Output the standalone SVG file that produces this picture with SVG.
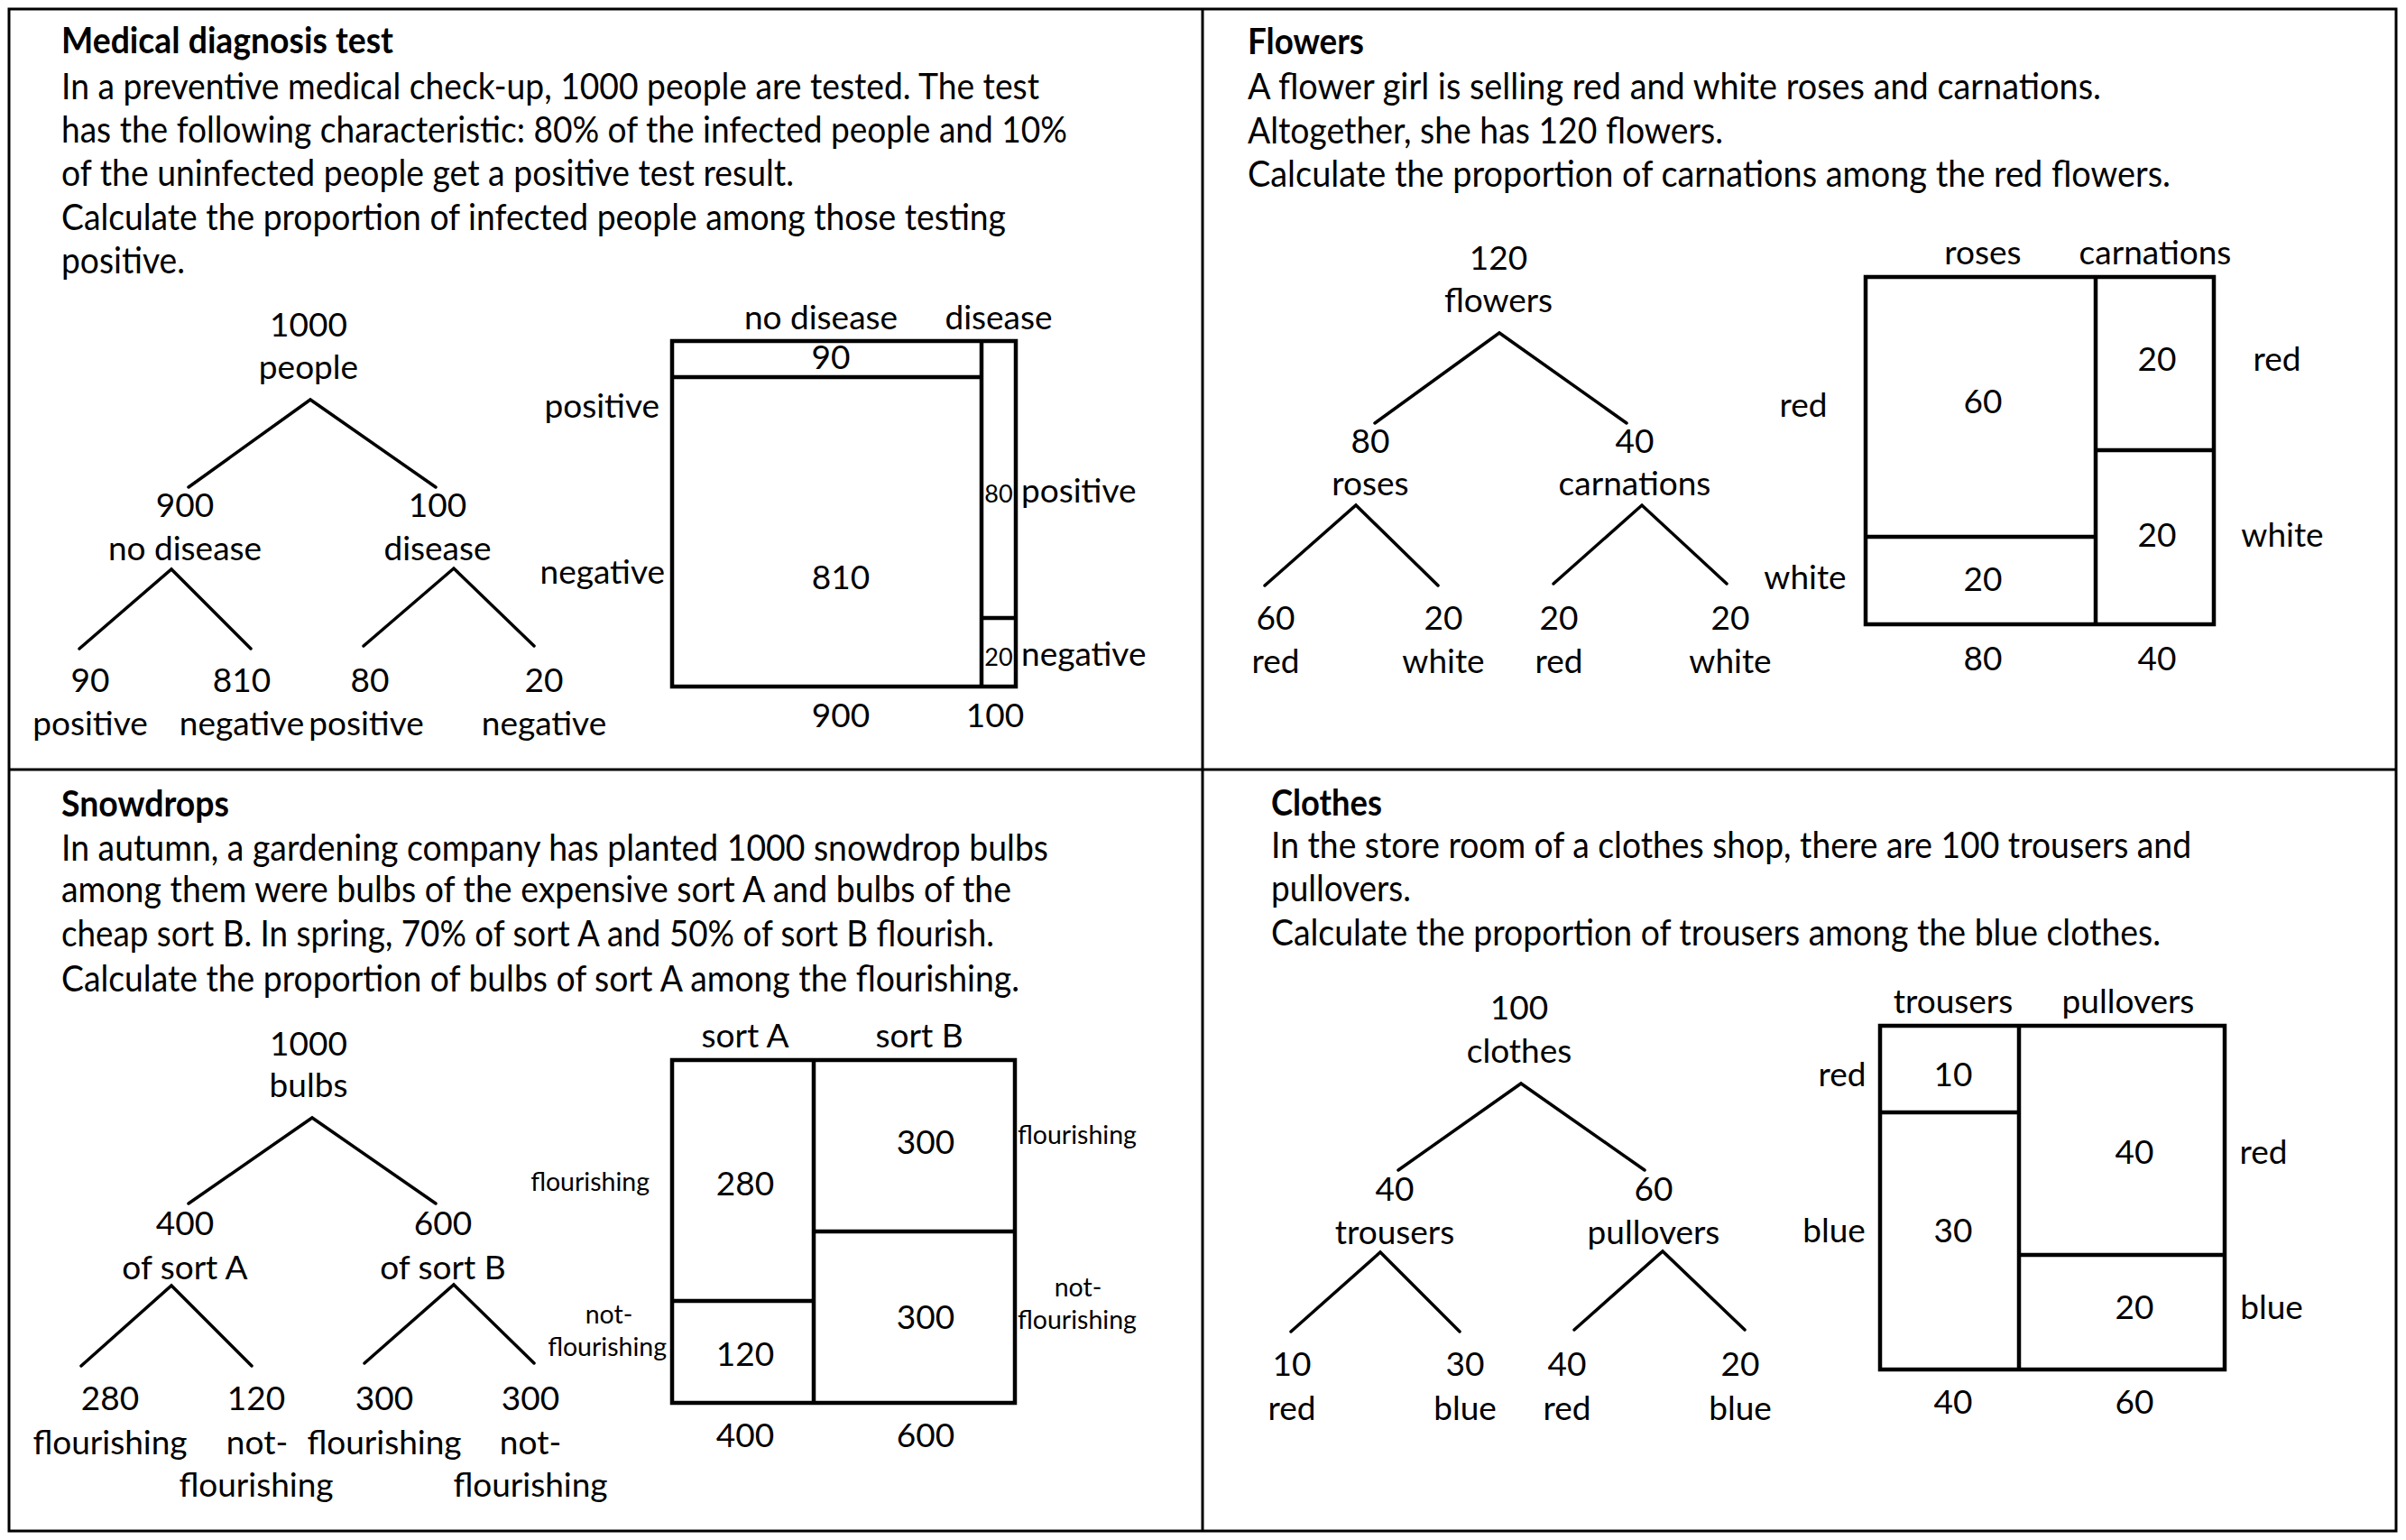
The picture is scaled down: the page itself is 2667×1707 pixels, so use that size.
<svg xmlns="http://www.w3.org/2000/svg" width="2667" height="1707" viewBox="0 0 2667 1707">
<style>
text{font-family:Lato,"Liberation Sans",Arial,sans-serif;font-size:37px;fill:#000}
.p{font-size:40px}
.b{font-weight:bold;font-size:40px}
.c{text-anchor:middle}
.e{text-anchor:end}
.s{font-size:28.5px}
.xs{font-size:27px}
.ln{stroke:#000;stroke-width:3.5;fill:none;stroke-linecap:round;stroke-linejoin:miter}
.bx{stroke:#000;stroke-width:4.5;fill:none}
.fr{stroke:#000;stroke-width:3;fill:none}
</style>
<rect width="2667" height="1707" fill="#fff"/>
<g id="frame">
<rect class="fr" x="10" y="10" width="2646" height="1687"/>
<line class="fr" x1="1333" y1="10" x2="1333" y2="1697"/>
<line class="fr" x1="10" y1="853" x2="2656" y2="853"/>
</g>
<g id="connectors">
<path class="ln" d="M209,540 L344,443 L483,540"/>
<path class="ln" d="M88,719 L190,631 L278,719"/>
<path class="ln" d="M403,716 L503,630 L592,716"/>
<path class="ln" d="M1524,469 L1662,369 L1803,469"/>
<path class="ln" d="M1402,649 L1503,560 L1594,649"/>
<path class="ln" d="M1722,647 L1820,560 L1914,647"/>
<path class="ln" d="M209,1334 L346,1239 L483,1334"/>
<path class="ln" d="M90,1514 L190,1425 L279,1514"/>
<path class="ln" d="M404,1511 L503,1424 L592,1511"/>
<path class="ln" d="M1550,1297 L1686,1201 L1823,1297"/>
<path class="ln" d="M1431,1476 L1530,1388 L1618,1476"/>
<path class="ln" d="M1745,1474 L1843,1387 L1934,1474"/>
</g>
<g id="panel-medical">
<text class="b" x="68" y="59" textLength="368" lengthAdjust="spacingAndGlyphs">Medical diagnosis test</text>
<text class="p" x="68" y="110" textLength="1084" lengthAdjust="spacingAndGlyphs">In a preventive medical check-up, 1000 people are tested. The test</text>
<text class="p" x="68" y="158" textLength="1115" lengthAdjust="spacingAndGlyphs">has the following characteristic: 80% of the infected people and 10%</text>
<text class="p" x="68" y="206" textLength="812" lengthAdjust="spacingAndGlyphs">of the uninfected people get a positive test result.</text>
<text class="p" x="68" y="255" textLength="1047" lengthAdjust="spacingAndGlyphs">Calculate the proportion of infected people among those testing</text>
<text class="p" x="68" y="303" textLength="137" lengthAdjust="spacingAndGlyphs">positive.</text>
<g id="tree-medical">
<text class="c" x="342" y="373">1000</text><text class="c" x="342" y="420">people</text>
<text class="c" x="205" y="573">900</text><text class="c" x="205" y="621">no disease</text>
<text class="c" x="485" y="573">100</text><text class="c" x="485" y="621">disease</text>
<text class="c" x="100" y="767">90</text><text class="c" x="100" y="815">positive</text>
<text class="c" x="268" y="767">810</text><text class="c" x="268" y="815">negative</text>
<text class="c" x="410" y="767">80</text><text class="c" x="406" y="815">positive</text>
<text class="c" x="603" y="767">20</text><text class="c" x="603" y="815">negative</text>
</g>
<g id="mosaic-medical">
<rect class="bx" x="745" y="378" width="381" height="383"/>
<line class="bx" x1="1088" y1="378" x2="1088" y2="761"/>
<line class="bx" x1="745" y1="418" x2="1088" y2="418"/>
<line class="bx" x1="1088" y1="685" x2="1126" y2="685"/>
<text class="c" x="910" y="365">no disease</text><text class="c" x="1107" y="365">disease</text>
<text class="c" x="921" y="409">90</text>
<text class="e" x="731" y="463">positive</text>
<text class="e" x="737" y="647">negative</text>
<text class="c" x="932" y="653">810</text>
<text class="xs c" x="1107" y="557">80</text><text x="1132" y="557">positive</text>
<text class="xs c" x="1107" y="738">20</text><text x="1132" y="738">negative</text>
<text class="c" x="932" y="806">900</text><text class="c" x="1103" y="806">100</text>
</g>
</g>
<g id="panel-flowers">
<text class="b" x="1383" y="60" textLength="129" lengthAdjust="spacingAndGlyphs">Flowers</text>
<text class="p" x="1383" y="110" textLength="946" lengthAdjust="spacingAndGlyphs">A flower girl is selling red and white roses and carnations.</text>
<text class="p" x="1383" y="159" textLength="527" lengthAdjust="spacingAndGlyphs">Altogether, she has 120 flowers.</text>
<text class="p" x="1383" y="207" textLength="1023" lengthAdjust="spacingAndGlyphs">Calculate the proportion of carnations among the red flowers.</text>
<g id="tree-flowers">
<text class="c" x="1661" y="299">120</text><text class="c" x="1661" y="346">flowers</text>
<text class="c" x="1519" y="502">80</text><text class="c" x="1519" y="549">roses</text>
<text class="c" x="1812" y="502">40</text><text class="c" x="1812" y="549">carnations</text>
<text class="c" x="1414" y="698">60</text><text class="c" x="1414" y="746">red</text>
<text class="c" x="1600" y="698">20</text><text class="c" x="1600" y="746">white</text>
<text class="c" x="1728" y="698">20</text><text class="c" x="1728" y="746">red</text>
<text class="c" x="1918" y="698">20</text><text class="c" x="1918" y="746">white</text>
</g>
<g id="mosaic-flowers">
<rect class="bx" x="2068" y="307" width="386" height="385"/>
<line class="bx" x1="2323" y1="307" x2="2323" y2="692"/>
<line class="bx" x1="2068" y1="595" x2="2323" y2="595"/>
<line class="bx" x1="2323" y1="499" x2="2454" y2="499"/>
<text class="c" x="2198" y="293">roses</text><text class="c" x="2389" y="293">carnations</text>
<text class="c" x="2198" y="458">60</text>
<text class="c" x="2391" y="411">20</text><text class="c" x="2524" y="411">red</text>
<text class="c" x="1999" y="462">red</text>
<text class="c" x="2001" y="653">white</text>
<text class="c" x="2198" y="655">20</text>
<text class="c" x="2391" y="606">20</text><text class="c" x="2530" y="606">white</text>
<text class="c" x="2198" y="743">80</text><text class="c" x="2391" y="743">40</text>
</g>
</g>
<g id="panel-snowdrops">
<text class="b" x="68" y="905" textLength="186" lengthAdjust="spacingAndGlyphs">Snowdrops</text>
<text class="p" x="68" y="954" textLength="1094" lengthAdjust="spacingAndGlyphs">In autumn, a gardening company has planted 1000 snowdrop bulbs</text>
<text class="p" x="68" y="1000" textLength="1053" lengthAdjust="spacingAndGlyphs">among them were bulbs of the expensive sort A and bulbs of the</text>
<text class="p" x="68" y="1049" textLength="1034" lengthAdjust="spacingAndGlyphs">cheap sort B. In spring, 70% of sort A and 50% of sort B flourish.</text>
<text class="p" x="68" y="1099" textLength="1062" lengthAdjust="spacingAndGlyphs">Calculate the proportion of bulbs of sort A among the flourishing.</text>
<g id="tree-snowdrops">
<text class="c" x="342" y="1170">1000</text><text class="c" x="342" y="1216">bulbs</text>
<text class="c" x="205" y="1369">400</text><text class="c" x="205" y="1418">of sort A</text>
<text class="c" x="491" y="1369">600</text><text class="c" x="491" y="1418">of sort B</text>
<text class="c" x="122" y="1563">280</text><text class="c" x="122" y="1612">flourishing</text>
<text class="c" x="284" y="1563">120</text><text class="c" x="285" y="1612">not-</text><text class="c" x="284" y="1659">flourishing</text>
<text class="c" x="426" y="1563">300</text><text class="c" x="426" y="1612">flourishing</text>
<text class="c" x="588" y="1563">300</text><text class="c" x="588" y="1612">not-</text><text class="c" x="588" y="1659">flourishing</text>
</g>
<g id="mosaic-snowdrops">
<rect class="bx" x="745" y="1175" width="380" height="380"/>
<line class="bx" x1="902" y1="1175" x2="902" y2="1555"/>
<line class="bx" x1="745" y1="1442" x2="902" y2="1442"/>
<line class="bx" x1="902" y1="1365" x2="1125" y2="1365"/>
<text class="c" x="826" y="1161">sort A</text><text class="c" x="1019" y="1161">sort B</text>
<text class="c" x="826" y="1325">280</text>
<text class="c" x="826" y="1514">120</text>
<text class="c" x="1026" y="1279">300</text>
<text class="c" x="1026" y="1473">300</text>
<text class="s e" x="720" y="1320">flourishing</text>
<text class="s c" x="675" y="1467">not-</text>
<text class="s e" x="739" y="1503">flourishing</text>
<text class="s" x="1128" y="1268">flourishing</text>
<text class="s c" x="1195" y="1437">not-</text>
<text class="s" x="1128" y="1473">flourishing</text>
<text class="c" x="826" y="1604">400</text><text class="c" x="1026" y="1604">600</text>
</g>
</g>
<g id="panel-clothes">
<text class="b" x="1409" y="904" textLength="123" lengthAdjust="spacingAndGlyphs">Clothes</text>
<text class="p" x="1409" y="951" textLength="1020" lengthAdjust="spacingAndGlyphs">In the store room of a clothes shop, there are 100 trousers and</text>
<text class="p" x="1409" y="999" textLength="155" lengthAdjust="spacingAndGlyphs">pullovers.</text>
<text class="p" x="1409" y="1048" textLength="986" lengthAdjust="spacingAndGlyphs">Calculate the proportion of trousers among the blue clothes.</text>
<g id="tree-clothes">
<text class="c" x="1684" y="1130">100</text><text class="c" x="1684" y="1178">clothes</text>
<text class="c" x="1546" y="1331">40</text><text class="c" x="1546" y="1379">trousers</text>
<text class="c" x="1833" y="1331">60</text><text class="c" x="1833" y="1379">pullovers</text>
<text class="c" x="1432" y="1525">10</text><text class="c" x="1432" y="1574">red</text>
<text class="c" x="1624" y="1525">30</text><text class="c" x="1624" y="1574">blue</text>
<text class="c" x="1737" y="1525">40</text><text class="c" x="1737" y="1574">red</text>
<text class="c" x="1929" y="1525">20</text><text class="c" x="1929" y="1574">blue</text>
</g>
<g id="mosaic-clothes">
<rect class="bx" x="2084" y="1137" width="382" height="381"/>
<line class="bx" x1="2238" y1="1137" x2="2238" y2="1518"/>
<line class="bx" x1="2084" y1="1233" x2="2238" y2="1233"/>
<line class="bx" x1="2238" y1="1391" x2="2466" y2="1391"/>
<text class="c" x="2165" y="1123">trousers</text><text class="c" x="2359" y="1123">pullovers</text>
<text class="c" x="2042" y="1204">red</text><text class="c" x="2165" y="1204">10</text>
<text class="c" x="2033" y="1377">blue</text><text class="c" x="2165" y="1377">30</text>
<text class="c" x="2366" y="1290">40</text><text class="c" x="2509" y="1290">red</text>
<text class="c" x="2366" y="1462">20</text><text class="c" x="2518" y="1462">blue</text>
<text class="c" x="2165" y="1567">40</text><text class="c" x="2366" y="1567">60</text>
</g>
</g>
</svg>
